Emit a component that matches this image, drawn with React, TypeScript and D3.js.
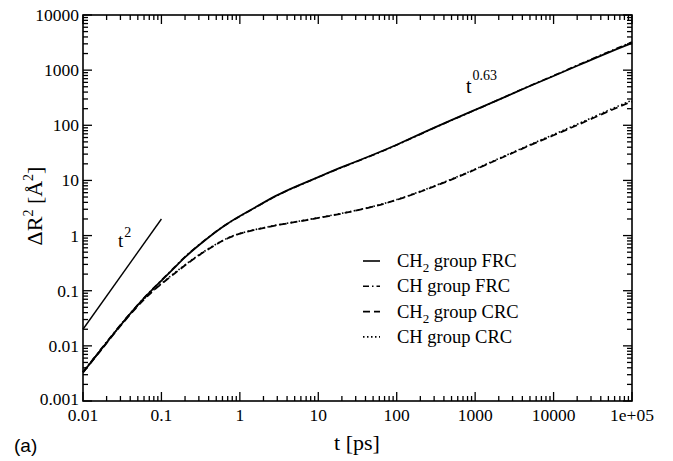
import React from "react";
import * as d3 from "d3";

// time points (ps)
const times = [0.01, 0.015, 0.02, 0.03, 0.05, 0.07, 0.1, 0.15, 0.2, 0.3, 0.5, 0.7, 1, 2, 3, 5, 10, 20, 50, 100, 200, 500, 1000, 2000, 5000, 10000, 20000, 50000, 100000];

// ΔR² values (Å²)
const ch2FRC = [0.0033, 0.0068, 0.0115, 0.0236, 0.0556, 0.092, 0.152, 0.27, 0.41, 0.67, 1.2, 1.67, 2.26, 3.95, 5.45, 7.6, 11.5, 17.5, 29, 44, 70, 125, 190, 290, 520, 780, 1200, 2100, 3100];
const chFRC = [0.0034, 0.007, 0.0118, 0.0242, 0.0565, 0.094, 0.155, 0.275, 0.42, 0.68, 1.21, 1.66, 2.24, 3.9, 5.4, 7.5, 11.4, 17.3, 28.7, 43.5, 69, 124, 188, 292, 525, 790, 1230, 2150, 3250];
const ch2CRC = [0.0033, 0.0067, 0.0112, 0.0234, 0.0535, 0.087, 0.133, 0.21, 0.29, 0.44, 0.7, 0.9, 1.1, 1.38, 1.55, 1.75, 2.08, 2.5, 3.29, 4.39, 6.2, 10.3, 15.7, 24.4, 43.5, 66, 100, 180, 270];
const chCRC = [0.0034, 0.0069, 0.0115, 0.0238, 0.0545, 0.089, 0.136, 0.215, 0.295, 0.45, 0.71, 0.91, 1.11, 1.39, 1.56, 1.77, 2.1, 2.53, 3.32, 4.45, 6.3, 10.5, 16, 25, 44.5, 68, 104, 188, 285];

// reference power law t²
const t2Line = [[0.01, 0.02], [0.1, 2]];

const xTickValues = [0.01, 0.1, 1, 10, 100, 1000, 10000, 100000];
const xTickLabels = ["0.01", "0.1", "1", "10", "100", "1000", "10000", "1e+05"];
const yTickValues = [0.001, 0.01, 0.1, 1, 10, 100, 1000, 10000];
const yTickLabels = ["0.001", "0.01", "0.1", "1", "10", "100", "1000", "10000"];

const legendItems = [
  { sub: true, name: " group FRC", dash: "none" },
  { sub: false, name: " group FRC", dash: "6,3,1.5,3" },
  { sub: true, name: " group CRC", dash: "7,4" },
  { sub: false, name: " group CRC", dash: "1.5,2.5" },
];

const W = 673, H = 461;
const L = 83, R = 632, T = 15, B = 401;

export default function App() {
  const x = d3.scaleLog().domain([0.01, 1e5]).range([L, R]);
  const y = d3.scaleLog().domain([0.001, 1e4]).range([B, T]);
  const line = d3.line<[number, number]>().x(d => x(d[0])).y(d => y(d[1])).curve(d3.curveBasis);

  const series = [
    { vals: ch2FRC, dash: "none", w: 1.8 },
    { vals: chFRC, dash: "6,3,1.5,3", w: 1.6 },
    { vals: ch2CRC, dash: "7,4", w: 1.8 },
    { vals: chCRC, dash: "1.5,2.5", w: 1.6 },
  ];

  const xMinor: number[] = [];
  for (let e = -2; e < 5; e++) for (let m = 2; m <= 9; m++) xMinor.push(m * Math.pow(10, e));
  const yMinor: number[] = [];
  for (let e = -3; e < 4; e++) for (let m = 2; m <= 9; m++) yMinor.push(m * Math.pow(10, e));

  const font = "'Liberation Serif', 'Times New Roman', serif";
  const maj = 9, min = 5;

  return (
    <svg width={W} height={H} style={{ position: "absolute", left: 0, top: 0, background: "#fff" }} fontFamily={font}>
      {/* curves */}
      <g fill="none" stroke="#000">
        {series.map((s, i) => (
          <path key={i} d={line(times.map((t, j) => [t, s.vals[j]] as [number, number])) || ""} strokeDasharray={s.dash} strokeWidth={s.w} />
        ))}
        <path d={d3.line<number[]>().x(d => x(d[0])).y(d => y(d[1]))(t2Line) || ""} strokeWidth={1.4} />
      </g>

      {/* frame */}
      <rect x={L} y={T} width={R - L} height={B - T} fill="none" stroke="#000" strokeWidth={1.6} />

      {/* ticks */}
      <g stroke="#000" strokeWidth={1.3}>
        {xTickValues.map(v => (
          <g key={"xm" + v}>
            <line x1={x(v)} x2={x(v)} y1={B} y2={B - maj} />
            <line x1={x(v)} x2={x(v)} y1={T} y2={T + maj} />
          </g>
        ))}
        {xMinor.map(v => (
          <g key={"xn" + v}>
            <line x1={x(v)} x2={x(v)} y1={B} y2={B - min} />
            <line x1={x(v)} x2={x(v)} y1={T} y2={T + min} />
          </g>
        ))}
        {yTickValues.map(v => (
          <g key={"ym" + v}>
            <line x1={L} x2={L + maj} y1={y(v)} y2={y(v)} />
            <line x1={R} x2={R - maj} y1={y(v)} y2={y(v)} />
          </g>
        ))}
        {yMinor.map(v => (
          <g key={"yn" + v}>
            <line x1={L} x2={L + min} y1={y(v)} y2={y(v)} />
            <line x1={R} x2={R - min} y1={y(v)} y2={y(v)} />
          </g>
        ))}
      </g>

      {/* tick labels */}
      <g fontSize={17.5} fill="#000">
        {xTickValues.map((v, i) => (
          <text key={"xl" + v} x={x(v)} y={421} textAnchor="middle">{xTickLabels[i]}</text>
        ))}
        {yTickValues.map((v, i) => (
          <text key={"yl" + v} x={79} y={y(v) + (i === 0 ? 4 : 6)} textAnchor="end">{yTickLabels[i]}</text>
        ))}
      </g>

      {/* axis labels */}
      <text x={357} y={450} fontSize={22} textAnchor="middle">t [ps]</text>
      <text transform="translate(42,206) rotate(-90)" fontSize={22} textAnchor="middle">
        ΔR<tspan dy={-9} fontSize={14}>2</tspan><tspan dy={9}> [Å</tspan><tspan dy={-9} fontSize={14}>2</tspan><tspan dy={9}>]</tspan>
      </text>

      {/* annotations */}
      <text x={118} y={247} fontSize={19}>t<tspan dy={-10} dx={1} fontSize={14}>2</tspan></text>
      <text x={466} y={93} fontSize={20}>t<tspan dy={-13} dx={1} fontSize={14}>0.63</tspan></text>

      {/* legend */}
      {legendItems.map((it, i) => {
        const base = 267 + i * 25.3;
        return (
          <g key={"lg" + i}>
            <line x1={363} x2={380} y1={base - 6} y2={base - 6} stroke="#000" strokeWidth={1.6} strokeDasharray={it.dash} />
            <text x={397} y={base} fontSize={18.5}>
              CH{it.sub ? <tspan dy={5} fontSize={13}>2</tspan> : null}
              <tspan dy={it.sub ? -5 : 0}>{it.name}</tspan>
            </text>
          </g>
        );
      })}

      <text x={14} y={452} fontSize={19} fontFamily="'Liberation Sans', Arial, sans-serif">(a)</text>
    </svg>
  );
}
